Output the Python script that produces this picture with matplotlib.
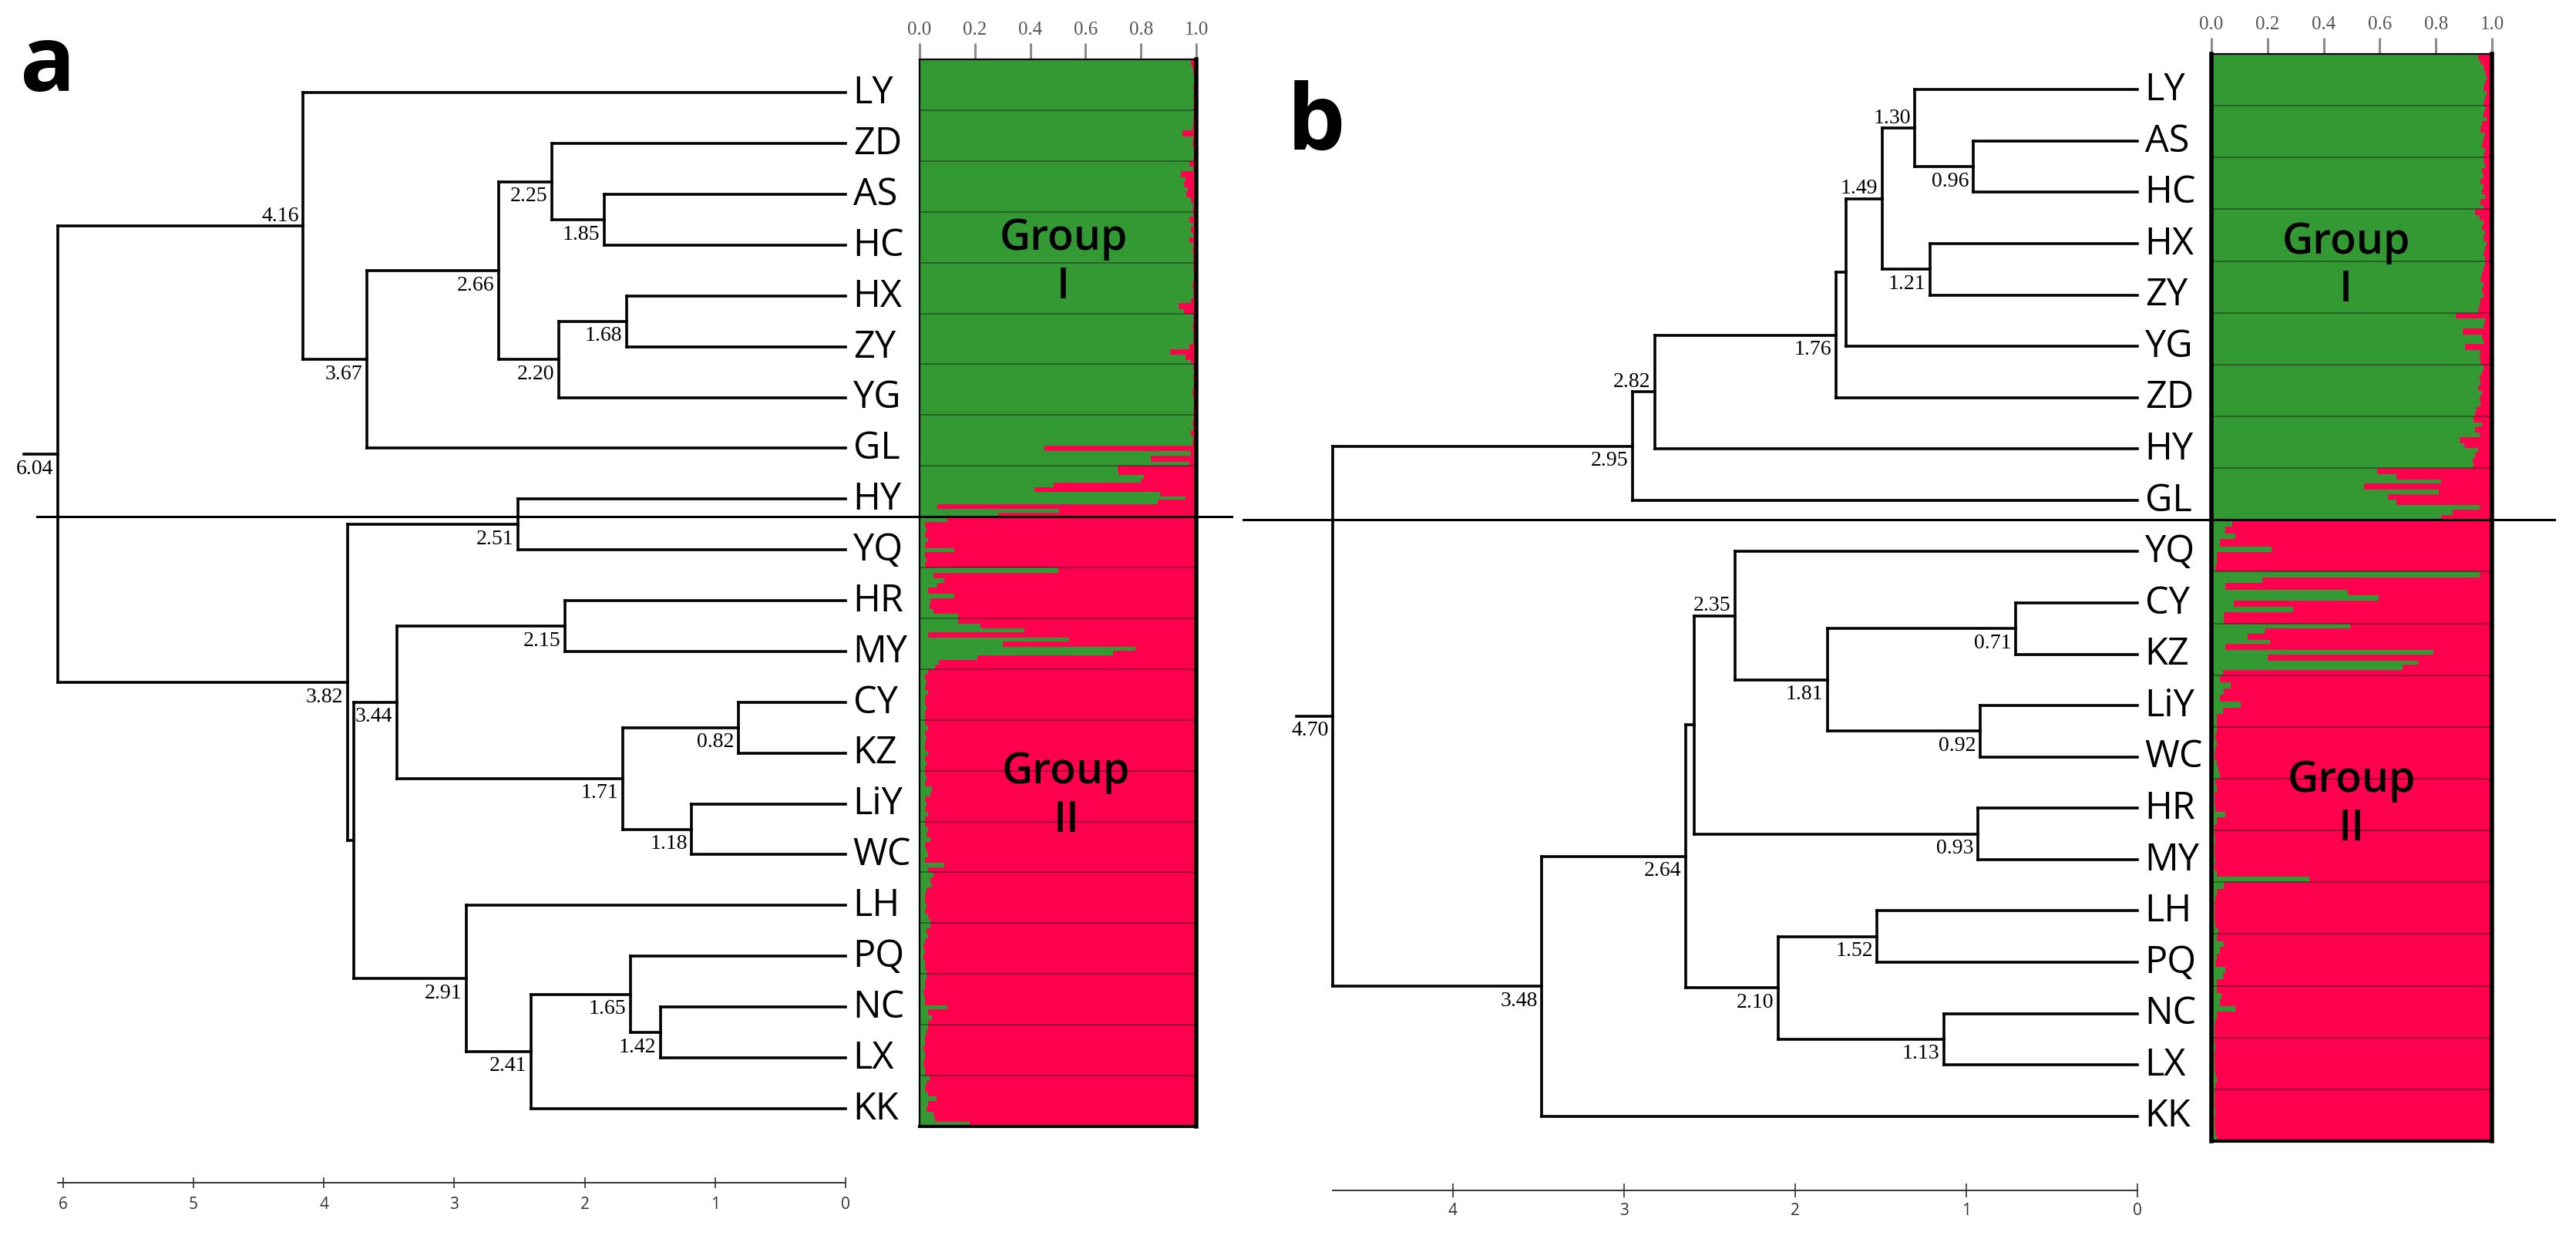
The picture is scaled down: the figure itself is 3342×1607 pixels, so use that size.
import matplotlib
matplotlib.use("Agg")
import matplotlib.pyplot as plt
import numpy as np
from matplotlib import font_manager
from matplotlib.transforms import blended_transform_factory

W, H, DPI = 3342, 1608, 100

# ---------------- data ----------------
# panel a: UPGMA tree (node height, child, child), leaves in plot order
LEAVES_A = ['LY', 'ZD', 'AS', 'HC', 'HX', 'ZY', 'YG', 'GL', 'HY',
            'YQ', 'HR', 'MY', 'CY', 'KZ', 'LiY', 'WC', 'LH', 'PQ', 'NC', 'LX', 'KK']
TREE_A = (6.04,
          (4.16, 'LY', (3.67, (2.66, (2.25, 'ZD', (1.85, 'AS', 'HC')),
                                     (2.20, (1.68, 'HX', 'ZY'), 'YG')), 'GL')),
          (3.82, (2.51, 'HY', 'YQ'),
                 (3.77, (3.44, (2.15, 'HR', 'MY'),
                               (1.71, (0.82, 'CY', 'KZ'), (1.18, 'LiY', 'WC'))),
                        (2.91, 'LH', (2.41, (1.65, 'PQ', (1.42, 'NC', 'LX')), 'KK')))))
HIDDEN_A = [3.77]          # nodes drawn without a value
ABOVE_A = [4.16]           # values written above the branch
TICKS_A = [0, 1, 2, 3, 4, 5, 6]

# panel b
LEAVES_B = ['LY', 'AS', 'HC', 'HX', 'ZY', 'YG', 'ZD', 'HY', 'GL',
            'YQ', 'CY', 'KZ', 'LiY', 'WC', 'HR', 'MY', 'LH', 'PQ', 'NC', 'LX', 'KK']
TREE_B = (4.70,
          (2.95, (2.82, (1.76, (1.70, (1.49, (1.30, 'LY', (0.96, 'AS', 'HC')),
                                             (1.21, 'HX', 'ZY')), 'YG'), 'ZD'), 'HY'), 'GL'),
          (3.48, (2.64, (2.59, (2.35, 'YQ', (1.81, (0.71, 'CY', 'KZ'), (0.92, 'LiY', 'WC'))),
                               (0.93, 'HR', 'MY')),
                        (2.10, (1.52, 'LH', 'PQ'), (1.13, 'NC', 'LX'))), 'KK'))
HIDDEN_B = [1.70, 2.59]
ABOVE_B = [1.30, 1.49, 2.82, 2.35]
TICKS_B = [0, 1, 2, 3, 4]

# STRUCTURE membership (green cluster share) of each individual, rows in leaf order
ADMIX_A_I = [
    [0.98, 0.985, 0.99, 0.995, 0.995, 0.99, 0.995, 0.99, 0.995, 0.99],       # LY
    [0.995, 0.99, 0.99, 0.985, 0.95, 0.99, 0.985, 0.99, 0.995, 0.99],        # ZD
    [0.975, 0.99, 0.945, 0.96, 0.955, 0.97, 0.965, 0.98, 0.99, 0.985],       # AS
    [0.99, 0.975, 0.99, 0.98, 0.99, 0.975, 0.99, 0.985, 0.99, 0.99],         # HC
    [0.99, 0.99, 0.995, 0.99, 0.985, 0.99, 0.99, 0.98, 0.935, 0.955],        # HX
    [0.99, 0.99, 0.985, 0.99, 0.99, 0.99, 0.975, 0.905, 0.96, 0.98],         # ZY
    [0.99, 0.995, 0.99, 0.995, 0.99, 0.985, 0.99, 0.995, 0.99, 0.99],        # YG
    [0.99, 0.985, 0.99, 0.98, 0.99, 0.985, 0.45, 0.98, 0.835, 0.975],        # GL
    [0.715, 0.72, 0.81, 0.80, 0.485, 0.415, 0.87, 0.96, 0.86, 0.065, 0.505, 0.285],  # HY
]
ADMIX_A_II = [
    [0.10, 0.02, 0.025, 0.02, 0.03, 0.02, 0.125, 0.02, 0.025, 0.02],         # YQ
    [0.50, 0.05, 0.09, 0.065, 0.03, 0.125, 0.04, 0.035, 0.05, 0.14],         # HR
    [0.14, 0.22, 0.38, 0.03, 0.54, 0.30, 0.78, 0.70, 0.21, 0.07, 0.055],     # MY
    [0.03, 0.02, 0.025, 0.02, 0.03, 0.02, 0.02, 0.025, 0.02, 0.02],          # CY
    [0.02, 0.03, 0.02, 0.025, 0.02, 0.02, 0.03, 0.02, 0.025, 0.02],          # KZ
    [0.02, 0.025, 0.02, 0.045, 0.04, 0.02, 0.025, 0.02, 0.03, 0.02],         # LiY
    [0.02, 0.03, 0.025, 0.04, 0.02, 0.025, 0.03, 0.02, 0.09, 0.03],          # WC
    [0.05, 0.04, 0.045, 0.025, 0.02, 0.02, 0.025, 0.02, 0.03, 0.04],         # LH
    [0.04, 0.025, 0.03, 0.02, 0.015, 0.02, 0.015, 0.02, 0.02, 0.025],        # PQ
    [0.025, 0.02, 0.02, 0.015, 0.02, 0.02, 0.10, 0.03, 0.045, 0.03],         # NC
    [0.03, 0.025, 0.02, 0.02, 0.015, 0.02, 0.02, 0.015, 0.02, 0.02],         # LX
    [0.035, 0.025, 0.02, 0.03, 0.06, 0.03, 0.025, 0.05, 0.055, 0.18],        # KK
]
ADMIX_B_I = [
    [0.95, 0.96, 0.97, 0.975, 0.98, 0.975, 0.97, 0.98, 0.975, 0.97],         # LY
    [0.975, 0.97, 0.98, 0.965, 0.96, 0.975, 0.97, 0.965, 0.975, 0.97],       # AS
    [0.97, 0.975, 0.965, 0.97, 0.96, 0.97, 0.965, 0.975, 0.96, 0.97],        # HC
    [0.94, 0.955, 0.97, 0.965, 0.975, 0.97, 0.98, 0.975, 0.97, 0.975],       # HX
    [0.975, 0.97, 0.965, 0.96, 0.97, 0.965, 0.97, 0.96, 0.955, 0.95],        # ZY
    [0.87, 0.975, 0.97, 0.895, 0.965, 0.97, 0.905, 0.96, 0.955, 0.96],       # YG
    [0.97, 0.965, 0.955, 0.96, 0.95, 0.965, 0.955, 0.96, 0.945, 0.94],       # ZD
    [0.935, 0.965, 0.94, 0.955, 0.885, 0.90, 0.95, 0.94, 0.93, 0.935],       # HY
    [0.59, 0.66, 0.82, 0.545, 0.81, 0.63, 0.66, 0.955, 0.86, 0.82],          # GL
]
ADMIX_B_II = [
    [0.075, 0.05, 0.085, 0.03, 0.215, 0.02, 0.02, 0.015],                    # YQ
    [0.955, 0.18, 0.05, 0.485, 0.595, 0.08, 0.29, 0.045, 0.045],             # CY
    [0.495, 0.19, 0.13, 0.21, 0.05, 0.79, 0.20, 0.735, 0.68, 0.04],          # KZ
    [0.03, 0.07, 0.045, 0.03, 0.105, 0.04, 0.02, 0.02],                      # LiY
    [0.02, 0.015, 0.02, 0.015, 0.01, 0.02, 0.025, 0.03],                     # WC
    [0.015, 0.02, 0.01, 0.01, 0.015, 0.05, 0.02, 0.01],                      # HR
    [0.01, 0.015, 0.01, 0.01, 0.015, 0.01, 0.02, 0.35],                      # MY
    [0.045, 0.02, 0.015, 0.01, 0.01, 0.01, 0.015, 0.025],                    # LH
    [0.02, 0.045, 0.03, 0.02, 0.015, 0.05, 0.04, 0.02],                      # PQ
    [0.02, 0.035, 0.03, 0.085, 0.02, 0.015, 0.01, 0.01],                     # NC
    [0.01, 0.015, 0.01, 0.01, 0.01, 0.015, 0.02, 0.015],                     # LX
    [0.01, 0.01, 0.01, 0.015, 0.01, 0.01, 0.015, 0.02],                      # KK
]
GROUP_LABELS = ['Group\nI', 'Group\nII']
BAR_TICKS = [0.0, 0.2, 0.4, 0.6, 0.8, 1.0]

GREEN = '#339933'
RED = '#FF004F'


def pick(*names):
    avail = {f.name for f in font_manager.fontManager.ttflist}
    for n in names:
        if n in avail:
            return n
    return 'DejaVu Sans'


SANS = pick('Open Sans', 'Noto Sans', 'DejaVu Sans')
NARROW = pick('Liberation Sans Narrow', 'Open Sans', 'DejaVu Sans')
SERIF = pick('Liberation Serif', 'DejaVu Serif')
TREE_LW = 2.6

# pixel layout of both panels
LAYOUT_A = dict(dleft=0, zero=1097, unit=169.2, leaf0=121.4, step=65.87, scale_y=1535,
                tick_len=10, tick_pad=7, bar=(1193, 78, 1552, 1462), left_lw=1.6,
                line=(48, 1598), stub=0.26, letter=('a', 26, 118),
                groups=[(0.52, 4.0), (0.53, 14.5)])
LAYOUT_B = dict(dleft=1600, zero=2773, unit=222.1, leaf0=117.3, step=66.57, scale_y=1545,
                tick_len=13, tick_pad=4, bar=(2869, 71, 3233, 1481), left_lw=4.0,
                line=(1613, 3314), stub=0.21, letter=('b', 1670, 194),
                groups=[(0.48, 4.1), (0.50, 14.5)])

fig = plt.figure(figsize=(W / DPI, H / DPI), dpi=DPI)


def px_axes(x0, y0, x1, y1):
    return fig.add_axes([x0 / W, 1 - y1 / H, (x1 - x0) / W, (y1 - y0) / H])


def draw_tree(ax, node, leaf_y, hidden, above):
    """draws node, returns (height, y)"""
    if isinstance(node, str):
        return 0.0, leaf_y[node]
    h, c1, c2 = node
    kids = [draw_tree(ax, c, leaf_y, hidden, above) for c in (c1, c2)]
    ys = [k[1] for k in kids]
    ax.plot([h, h], [ys[0], ys[1]], color='black', lw=TREE_LW, clip_on=False,
            solid_capstyle='projecting')
    for (kh, ky), c in zip(kids, (c1, c2)):
        ax.plot([h, kh], [ky, ky], color='black', lw=TREE_LW, clip_on=False,
                solid_capstyle='projecting')
        if not isinstance(c, str) and c[0] not in hidden:
            label_node(ax, c[0], ky, c[0] in above)
    return h, sum(ys) / 2


def label_node(ax, h, y, is_above):
    ax.annotate(f'{h:.2f}', (h, y), xytext=(-4, 10 if is_above else -13),
                textcoords='offset points', ha='right', va='center',
                fontsize=20, family=SERIF, annotation_clip=False)


def draw_panel(leaves, tree, hidden, above, ticks, rows_1, rows_2, lay):
    # ---- dendrogram ----
    ax = px_axes(lay['dleft'], 0, lay['zero'], H)
    ax.set_xlim((lay['zero'] - lay['dleft']) / lay['unit'], 0)
    ax.set_ylim((H - lay['leaf0']) / lay['step'], -lay['leaf0'] / lay['step'])
    ax.patch.set_visible(False)
    leaf_y = {name: i for i, name in enumerate(leaves)}
    root_h, root_y = draw_tree(ax, tree, leaf_y, hidden, above)
    ax.plot([root_h, root_h + lay['stub']], [root_y, root_y], color='black', lw=TREE_LW,
            clip_on=False)
    label_node(ax, root_h, root_y, False)
    for name, i in leaf_y.items():
        ax.annotate(name, (0, i), xytext=(7, 0), textcoords='offset points',
                    ha='left', va='center', fontsize=35, family=NARROW,
                    annotation_clip=False)
    # distance scale
    for s in ('top', 'left', 'right'):
        ax.spines[s].set_visible(False)
    ax.spines['bottom'].set_position(('data', (lay['scale_y'] - lay['leaf0']) / lay['step']))
    ax.spines['bottom'].set_bounds(root_h, 0)
    ax.spines['bottom'].set_linewidth(1.4)
    ax.spines['bottom'].set_color('#333333')
    ax.set_yticks([])
    ax.set_xticks(ticks)
    ax.set_xticklabels([str(t) for t in ticks])
    ax.tick_params(axis='x', direction='inout', length=lay['tick_len'], width=1.2,
                   color='#333333', pad=lay['tick_pad'], labelsize=15, labelcolor='#333333')
    for lab in ax.get_xticklabels():
        lab.set_fontfamily(NARROW)

    # ---- STRUCTURE bar plot ----
    bx = px_axes(*lay['bar'])
    rows = rows_1 + rows_2
    n_rows = len(rows)
    bx.set_xlim(0, 1)
    bx.set_ylim(n_rows, 0)
    for j, row in enumerate(rows):
        n = len(row)
        ys = [j + (k + 0.5) / n for k in range(n)]
        bx.barh(ys, row, height=1 / n, left=0, color=GREEN, edgecolor=GREEN, linewidth=0.6)
        bx.barh(ys, [1 - q for q in row], height=1 / n, left=row, color=RED,
                edgecolor=RED, linewidth=0.6)
    bx.hlines(range(1, n_rows), 0, 1, color='#1a1a1a', lw=1.1, alpha=0.55)
    bx.xaxis.tick_top()
    bx.set_xticks(BAR_TICKS)
    bx.set_xticklabels([f'{t:.1f}' for t in BAR_TICKS])
    bx.set_yticks([])
    bx.tick_params(axis='x', direction='out', length=15, width=2.2, color='#8c8c8c',
                   pad=5, labelsize=18, labelcolor='#555555')
    for lab in bx.get_xticklabels():
        lab.set_fontfamily(SERIF)
    bx.spines['left'].set_linewidth(lay['left_lw'])
    bx.spines['right'].set_linewidth(4.0)
    bx.spines['top'].set_linewidth(1.6)
    bx.spines['bottom'].set_linewidth(3.0)
    for (gx, gy), text in zip(lay['groups'], GROUP_LABELS):
        bx.text(gx, gy, text, ha='center', va='center', fontsize=40, family=SANS,
                fontweight='semibold', linespacing=1.15)

    # group divider across tree and bars
    tr = blended_transform_factory(fig.transFigure, bx.transData)
    x0, x1 = lay['line']
    fig.add_artist(plt.Line2D([x0 / W, x1 / W], [len(rows_1), len(rows_1)], transform=tr,
                              color='black', lw=2.2))

    letter, lx, ly = lay['letter']
    fig.text(lx / W, 1 - ly / H, letter, fontsize=86, fontweight='bold', family=SANS,
             ha='left', va='baseline')


draw_panel(LEAVES_A, TREE_A, HIDDEN_A, ABOVE_A, TICKS_A, ADMIX_A_I, ADMIX_A_II, LAYOUT_A)
draw_panel(LEAVES_B, TREE_B, HIDDEN_B, ABOVE_B, TICKS_B, ADMIX_B_I, ADMIX_B_II, LAYOUT_B)

fig.savefig('out.png', dpi=DPI, facecolor='white')
